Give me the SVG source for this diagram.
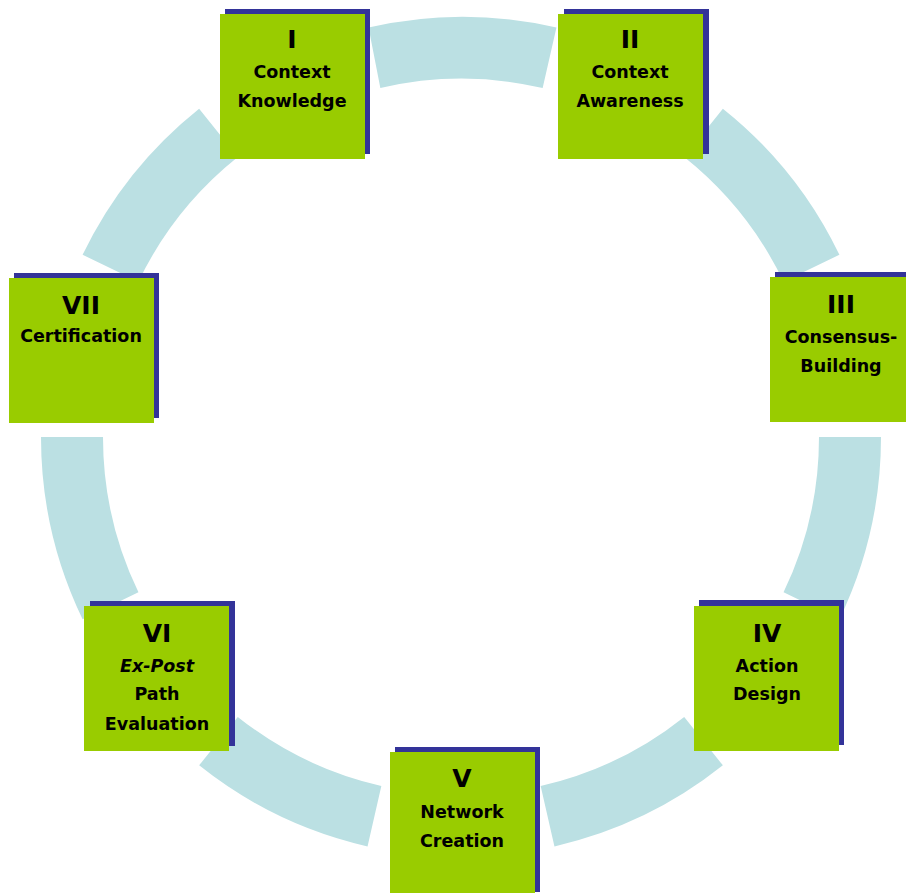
<svg xmlns="http://www.w3.org/2000/svg" width="906" height="893" viewBox="0 0 906 893">
<style>
.seg{fill:#BBE0E3}
.sh{fill:#333399}
.bx{fill:#99CC00}
text{font-family:"Comic Sans MS","DejaVu Sans","Liberation Sans",sans-serif;font-weight:bold;fill:#000;text-anchor:middle}
.t{font-size:25px}
.l{font-size:17.5px}
.it{font-style:italic}
</style>
<rect width="906" height="893" fill="#FFFFFF"/>
<g id="ring">
<path class="seg" d="M881,437 A420,420 0 0 1 839.41,619.23 L783.55,592.33 A358,358 0 0 0 819,437 Z"/>
<path class="seg" d="M722.87,765.37 A420,420 0 0 1 554.46,846.47 L540.66,786.02 A358,358 0 0 0 684.21,716.90 Z"/>
<path class="seg" d="M367.54,846.47 A420,420 0 0 1 199.13,765.37 L237.79,716.90 A358,358 0 0 0 381.34,786.02 Z"/>
<path class="seg" d="M82.59,619.23 A420,420 0 0 1 41,437 L103,437 A358,358 0 0 0 138.45,592.33 Z"/>
<path class="seg" d="M82.59,254.77 A420,420 0 0 1 199.13,108.63 L237.79,157.10 A358,358 0 0 0 138.45,281.67 Z"/>
<path class="seg" d="M368.54,27.53 A420,420 0 0 1 556.46,27.53 L542.66,87.98 A358,358 0 0 0 380.34,87.98 Z"/>
<path class="seg" d="M722.87,108.63 A420,420 0 0 1 839.41,254.77 L783.55,281.67 A358,358 0 0 0 684.21,157.10 Z"/>
</g>
<g id="node-I">
<rect class="sh" x="225" y="9" width="145" height="145"/>
<rect class="bx" x="220" y="14" width="145" height="145"/>
<text class="t" x="292" y="48">I</text>
<text class="l" x="292" y="78">Context</text>
<text class="l" x="292" y="107">Knowledge</text>
</g>
<g id="node-II">
<rect class="sh" x="564" y="9" width="145" height="145"/>
<rect class="bx" x="558" y="14" width="145" height="145"/>
<text class="t" x="630" y="48">II</text>
<text class="l" x="630" y="78">Context</text>
<text class="l" x="630" y="107">Awareness</text>
</g>
<g id="node-III">
<rect class="sh" x="775" y="272" width="145" height="145"/>
<rect class="bx" x="770" y="277" width="145" height="145"/>
<text class="t" x="841" y="313">III</text>
<text class="l" x="841" y="343">Consensus-</text>
<text class="l" x="841" y="372">Building</text>
</g>
<g id="node-IV">
<rect class="sh" x="699" y="600" width="145" height="145"/>
<rect class="bx" x="694" y="606" width="145" height="145"/>
<text class="t" x="767" y="642">IV</text>
<text class="l" x="767" y="672">Action</text>
<text class="l" x="767" y="700">Design</text>
</g>
<g id="node-V">
<rect class="sh" x="395" y="747" width="145" height="145"/>
<rect class="bx" x="390" y="752" width="145" height="145"/>
<text class="t" x="462" y="787">V</text>
<text class="l" x="462" y="818">Network</text>
<text class="l" x="462" y="847">Creation</text>
</g>
<g id="node-VI">
<rect class="sh" x="90" y="601" width="145" height="145"/>
<rect class="bx" x="84" y="606" width="145" height="145"/>
<text class="t" x="157" y="642">VI</text>
<text class="l it" x="157" y="672">Ex-Post</text>
<text class="l" x="157" y="700">Path</text>
<text class="l" x="157" y="730">Evaluation</text>
</g>
<g id="node-VII">
<rect class="sh" x="14" y="273" width="145" height="145"/>
<rect class="bx" x="9" y="278" width="145" height="145"/>
<text class="t" x="81" y="314">VII</text>
<text class="l" x="81" y="342">Certification</text>
</g>
<g id="connectors"></g>
</svg>
